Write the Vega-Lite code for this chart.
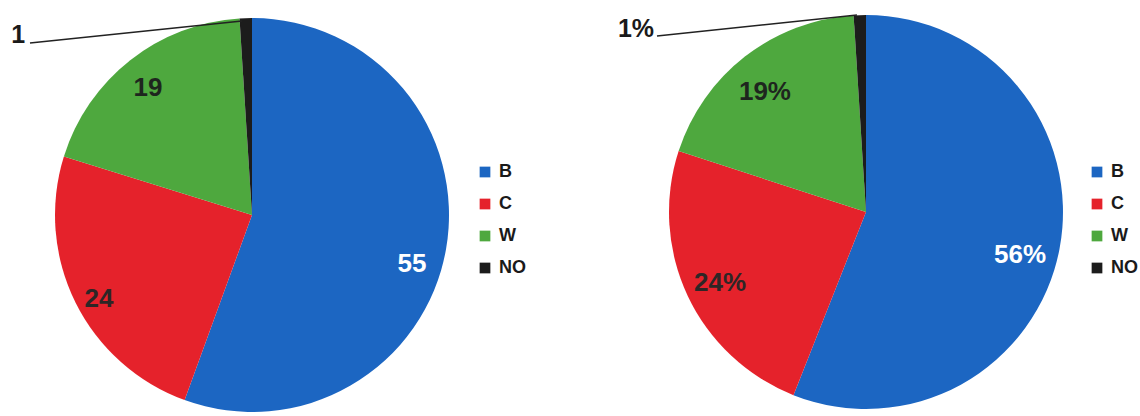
{
  "$schema": "https://vega.github.io/schema/vega-lite/v6.json",
  "padding": 0,
  "spacing": 0,
  "background": "white",
  "config": {
    "view": {"stroke": null},
    "font": "Liberation Sans",
    "legend": {
      "orient": "none",
      "symbolType": "square",
      "symbolSize": 115,
      "symbolStrokeWidth": 0,
      "labelFont": "Liberation Sans",
      "labelFontWeight": "bold",
      "labelFontSize": 18,
      "labelColor": "#1a1a1a",
      "labelOffset": 5,
      "rowPadding": 14,
      "title": null
    },
    "text": {"font": "Liberation Sans", "fontWeight": "bold", "fontSize": 26, "align": "center", "baseline": "middle"}
  },
  "datasets": {
    "counts": [
      {"cat": "B", "v": 55, "o": 1},
      {"cat": "C", "v": 24, "o": 2},
      {"cat": "W", "v": 19, "o": 3},
      {"cat": "NO", "v": 1, "o": 4}
    ],
    "shares": [
      {"cat": "B", "v": 0.56, "o": 1},
      {"cat": "C", "v": 0.24, "o": 2},
      {"cat": "W", "v": 0.19, "o": 3},
      {"cat": "NO", "v": 0.01, "o": 4}
    ]
  },
  "resolve": {
    "scale": {"color": "independent", "x": "independent", "y": "independent", "theta": "independent"},
    "legend": {"color": "independent"}
  },
  "hconcat": [
    {
      "width": 570,
      "height": 416,
      "data": {"name": "counts"},
      "layer": [
        {
          "mark": {"type": "arc", "outerRadius": 197},
          "encoding": {
            "x": {"datum": 0, "type": "quantitative", "scale": {"domain": [-1.2792, 1.6142], "nice": false, "zero": false}, "axis": null},
            "y": {"datum": 0, "type": "quantitative", "scale": {"domain": [-1.0203, 1.0914], "nice": false, "zero": false}, "axis": null},
            "theta": {"field": "v", "type": "quantitative", "stack": true},
            "order": {"field": "o", "type": "quantitative"},
            "color": {
              "field": "cat", "type": "nominal",
              "scale": {"domain": ["B", "C", "W", "NO"], "range": ["#1c66c2", "#e5222b", "#4ea83e", "#1c1c1c"]},
              "legend": {"legendX": 476, "legendY": 163}
            }
          }
        },
        {
          "transform": [{"filter": "datum.cat === 'B'"}],
          "mark": {"type": "text", "color": "#ffffff"},
          "encoding": {
            "x": {"datum": 0.812, "type": "quantitative"},
            "y": {"datum": -0.249, "type": "quantitative"},
            "text": {"field": "v", "type": "quantitative", "format": "d"}
          }
        },
        {
          "transform": [{"filter": "datum.cat === 'C'"}],
          "mark": {"type": "text", "color": "#2e2626"},
          "encoding": {
            "x": {"datum": -0.777, "type": "quantitative"},
            "y": {"datum": -0.426, "type": "quantitative"},
            "text": {"field": "v", "type": "quantitative", "format": "d"}
          }
        },
        {
          "transform": [{"filter": "datum.cat === 'W'"}],
          "mark": {"type": "text", "color": "#1e261e"},
          "encoding": {
            "x": {"datum": -0.528, "type": "quantitative"},
            "y": {"datum": 0.645, "type": "quantitative"},
            "text": {"field": "v", "type": "quantitative", "format": "d"}
          }
        },
        {
          "transform": [{"filter": "datum.cat === 'NO'"}],
          "mark": {"type": "rule", "stroke": "#222222", "strokeWidth": 1.5},
          "encoding": {
            "x": {"datum": -1.127, "type": "quantitative"},
            "y": {"datum": 0.873, "type": "quantitative"},
            "x2": {"datum": -0.051},
            "y2": {"datum": 0.985}
          }
        },
        {
          "transform": [{"filter": "datum.cat === 'NO'"}],
          "mark": {"type": "text", "fontSize": 25, "align": "right", "baseline": "alphabetic", "color": "#1a1a1a"},
          "encoding": {
            "x": {"datum": -1.152, "type": "quantitative"},
            "y": {"datum": 0.873, "type": "quantitative"},
            "text": {"field": "v", "type": "quantitative", "format": "d"}
          }
        }
      ]
    },
    {
      "width": 570,
      "height": 416,
      "data": {"name": "shares"},
      "layer": [
        {
          "mark": {"type": "arc", "outerRadius": 197},
          "encoding": {
            "x": {"datum": 0, "type": "quantitative", "scale": {"domain": [-1.5025, 1.3909], "nice": false, "zero": false}, "axis": null},
            "y": {"datum": 0, "type": "quantitative", "scale": {"domain": [-1.0355, 1.0761], "nice": false, "zero": false}, "axis": null},
            "theta": {"field": "v", "type": "quantitative", "stack": true},
            "order": {"field": "o", "type": "quantitative"},
            "color": {
              "field": "cat", "type": "nominal",
              "scale": {"domain": ["B", "C", "W", "NO"], "range": ["#1c66c2", "#e5222b", "#4ea83e", "#1c1c1c"]},
              "legend": {"legendX": 518, "legendY": 163}
            }
          }
        },
        {
          "transform": [{"filter": "datum.cat === 'B'"}],
          "mark": {"type": "text", "color": "#ffffff"},
          "encoding": {
            "x": {"datum": 0.782, "type": "quantitative"},
            "y": {"datum": -0.218, "type": "quantitative"},
            "text": {"field": "v", "type": "quantitative", "format": ".0%"}
          }
        },
        {
          "transform": [{"filter": "datum.cat === 'C'"}],
          "mark": {"type": "text", "color": "#2e2626"},
          "encoding": {
            "x": {"datum": -0.741, "type": "quantitative"},
            "y": {"datum": -0.36, "type": "quantitative"},
            "text": {"field": "v", "type": "quantitative", "format": ".0%"}
          }
        },
        {
          "transform": [{"filter": "datum.cat === 'W'"}],
          "mark": {"type": "text", "color": "#1e261e"},
          "encoding": {
            "x": {"datum": -0.513, "type": "quantitative"},
            "y": {"datum": 0.609, "type": "quantitative"},
            "text": {"field": "v", "type": "quantitative", "format": ".0%"}
          }
        },
        {
          "transform": [{"filter": "datum.cat === 'NO'"}],
          "mark": {"type": "rule", "stroke": "#222222", "strokeWidth": 1.5},
          "encoding": {
            "x": {"datum": -1.061, "type": "quantitative"},
            "y": {"datum": 0.893, "type": "quantitative"},
            "x2": {"datum": -0.046},
            "y2": {"datum": 1.0}
          }
        },
        {
          "transform": [{"filter": "datum.cat === 'NO'"}],
          "mark": {"type": "text", "fontSize": 25, "align": "right", "baseline": "alphabetic", "color": "#1a1a1a"},
          "encoding": {
            "x": {"datum": -1.076, "type": "quantitative"},
            "y": {"datum": 0.888, "type": "quantitative"},
            "text": {"field": "v", "type": "quantitative", "format": ".0%"}
          }
        }
      ]
    }
  ]
}
